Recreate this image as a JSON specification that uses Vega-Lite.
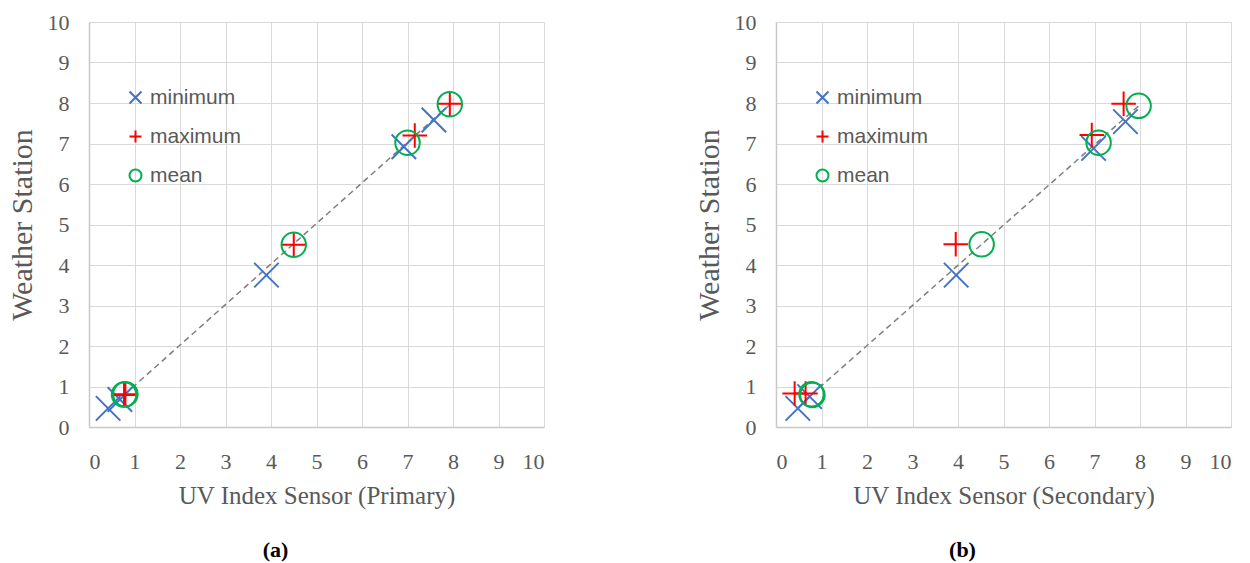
{
  "$schema": "https://vega.github.io/schema/vega-lite/v6.json",
  "background": "white",
  "padding": {"left": 7, "top": 11, "right": 5, "bottom": 5},
  "spacing": 150,
  "config": {
    "view": {"stroke": null},
    "axis": {
      "labelFont": "Liberation Serif", "labelFontSize": 22, "labelColor": "#595959",
      "titleFont": "Liberation Serif", "titleFontSize": 25, "titleColor": "#595959", "titleFontWeight": "normal",
      "gridColor": "#D9D9D9", "gridWidth": 1, "domainColor": "#C8C8C8", "domainWidth": 1.5,
      "ticks": false, "tickSize": 0
    },
    "axisX": {"labelPadding": 24, "titlePadding": 11},
    "axisY": {"labelPadding": 20, "titlePadding": 10, "titleFontSize": 30},
    "legend": {
      "orient": "none", "legendX": 36, "legendY": 65,
      "labelFont": "Liberation Sans", "labelFontSize": 21, "labelColor": "#595959",
      "symbolSize": 144, "symbolStrokeWidth": 2, "rowPadding": 17, "labelOffset": 4, "padding": 0
    },
    "title": {
      "font": "Liberation Serif", "fontSize": 22, "color": "#000000", "fontWeight": "bold",
      "orient": "bottom", "anchor": "middle", "frame": "bounds", "offset": 32
    }
  },
  "resolve": {"legend": {"color": "independent", "shape": "independent"}},
  "hconcat": [
    {
      "width": 455, "height": 405,
      "title": "(a)",
      "encoding": {
        "x": {"field": "x", "type": "quantitative", "scale": {"domain": [0, 10], "nice": false}, "axis": {"values": [0,1,2,3,4,5,6,7,8,9,10], "title": "UV Index Sensor (Primary)"}},
        "y": {"field": "y", "type": "quantitative", "scale": {"domain": [0, 10], "nice": false}, "axis": {"values": [0,1,2,3,4,5,6,7,8,9,10], "title": "Weather Station"}}
      },
      "layer": [
        {
          "data": {"values": [{"x": 0.78, "y": 0.8}, {"x": 7.95, "y": 7.98}]},
          "mark": {"type": "line", "color": "#7F7F7F", "strokeDash": [6, 4], "strokeWidth": 1.5}
        },
        {
          "data": {"values": [
            {"series": "minimum", "x": 0.42, "y": 0.46},
            {"series": "minimum", "x": 0.68, "y": 0.68},
            {"series": "minimum", "x": 3.9, "y": 3.75},
            {"series": "minimum", "x": 6.92, "y": 6.92},
            {"series": "minimum", "x": 7.58, "y": 7.58},
            {"series": "maximum", "x": 0.77, "y": 0.79},
            {"series": "maximum", "x": 0.8, "y": 0.81},
            {"series": "maximum", "x": 4.5, "y": 4.5},
            {"series": "maximum", "x": 7.16, "y": 7.2},
            {"series": "maximum", "x": 7.93, "y": 7.98},
            {"series": "mean", "x": 0.77, "y": 0.8},
            {"series": "mean", "x": 0.8, "y": 0.81},
            {"series": "mean", "x": 4.5, "y": 4.5},
            {"series": "mean", "x": 7.0, "y": 7.02},
            {"series": "mean", "x": 7.93, "y": 7.97}
          ]},
          "mark": {"type": "point", "filled": false, "strokeWidth": 2, "opacity": 1, "size": 600},
          "encoding": {
            "color": {"field": "series", "type": "nominal", "scale": {"domain": ["minimum", "maximum", "mean"], "range": ["#4472C4", "#FF0000", "#00B050"]}, "legend": {"title": null, "symbolSize": 144}},
            "shape": {"field": "series", "type": "nominal", "scale": {"domain": ["minimum", "maximum", "mean"], "range": ["M-1,-1L1,1M-1,1L1,-1", "M-1,0L1,0M0,-1L0,1", "circle"]}, "legend": {"title": null, "symbolSize": 144}}
          }
        }
      ]
    },
    {
      "width": 455, "height": 405,
      "title": "(b)",
      "encoding": {
        "x": {"field": "x", "type": "quantitative", "scale": {"domain": [0, 10], "nice": false}, "axis": {"values": [0,1,2,3,4,5,6,7,8,9,10], "title": "UV Index Sensor (Secondary)"}},
        "y": {"field": "y", "type": "quantitative", "scale": {"domain": [0, 10], "nice": false}, "axis": {"values": [0,1,2,3,4,5,6,7,8,9,10], "title": "Weather Station"}}
      },
      "layer": [
        {
          "data": {"values": [{"x": 0.78, "y": 0.8}, {"x": 7.97, "y": 7.93}]},
          "mark": {"type": "line", "color": "#7F7F7F", "strokeDash": [6, 4], "strokeWidth": 1.5}
        },
        {
          "data": {"values": [
            {"series": "minimum", "x": 0.48, "y": 0.46},
            {"series": "minimum", "x": 0.74, "y": 0.75},
            {"series": "minimum", "x": 3.96, "y": 3.75},
            {"series": "minimum", "x": 6.98, "y": 6.88},
            {"series": "minimum", "x": 7.68, "y": 7.54},
            {"series": "maximum", "x": 0.41, "y": 0.83},
            {"series": "maximum", "x": 0.65, "y": 0.83},
            {"series": "maximum", "x": 3.95, "y": 4.51},
            {"series": "maximum", "x": 6.94, "y": 7.21},
            {"series": "maximum", "x": 7.64, "y": 7.98},
            {"series": "mean", "x": 0.78, "y": 0.81},
            {"series": "mean", "x": 0.8, "y": 0.79},
            {"series": "mean", "x": 4.52, "y": 4.51},
            {"series": "mean", "x": 7.09, "y": 7.02},
            {"series": "mean", "x": 7.97, "y": 7.93}
          ]},
          "mark": {"type": "point", "filled": false, "strokeWidth": 2, "opacity": 1, "size": 600},
          "encoding": {
            "color": {"field": "series", "type": "nominal", "scale": {"domain": ["minimum", "maximum", "mean"], "range": ["#4472C4", "#FF0000", "#00B050"]}, "legend": {"title": null, "symbolSize": 144}},
            "shape": {"field": "series", "type": "nominal", "scale": {"domain": ["minimum", "maximum", "mean"], "range": ["M-1,-1L1,1M-1,1L1,-1", "M-1,0L1,0M0,-1L0,1", "circle"]}, "legend": {"title": null, "symbolSize": 144}}
          }
        }
      ]
    }
  ]
}
